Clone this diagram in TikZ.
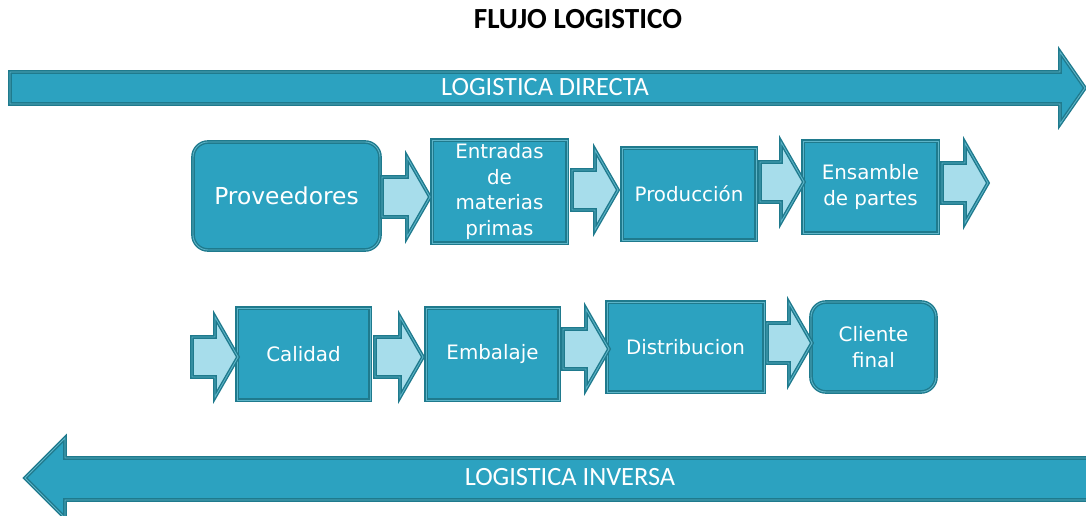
\documentclass[tikz,border=0pt]{standalone}
\usepackage{fontspec}
\setmainfont{DejaVu Sans}
\newfontfamily\carlito{Carlito}
\definecolor{caja}{HTML}{2CA2C0}
\definecolor{borde}{HTML}{1F7A8D}
\definecolor{medio}{HTML}{5DB4C8}
\definecolor{clara}{HTML}{A7DDEB}
\tikzset{
	caja/.style={draw=borde, double=medio, double distance=0.5pt, line width=0.8pt, fill=caja,
		text=white, align=center, inner sep=1pt, font=\fontsize{11.3}{14.6}\selectfont},
	redonda/.style={caja, rounded corners=0.3cm},
	flecha/.style={draw=borde, double=medio, double distance=0.5pt, line width=0.8pt, fill=clara},
	banda/.style={draw=borde, double=medio, double distance=0.5pt, line width=0.8pt, fill=caja},
	etiqueta/.style={text=white, font=\carlito\fontsize{15}{17}\selectfont},
}
% flecha de bloque: x inicio, x punta, y
\newcommand{\flecha}[3]{%
	\draw[flecha] (#1,#3-20) -- ({#2-23},#3-20) -- ({#2-23},#3-40) -- (#2,#3)
		-- ({#2-23},#3+40) -- ({#2-23},#3+20) -- (#1,#3+20) -- cycle;}
\begin{document}
\begin{tikzpicture}[x=0.02cm, y=-0.02cm]
		\useasboundingbox (0,0) rectangle (1086,516);

		\node[font=\carlito\bfseries\fontsize{16.6}{19}\selectfont] (titulo) at (578,19) {FLUJO LOGISTICO};

		\draw[banda] (10,72) -- (1060,72) -- (1060,52) -- (1085,88) -- (1060,124) -- (1060,104) -- (10,104) -- cycle;
		\node[etiqueta] (directa) at (545,87) {LOGISTICA DIRECTA};

		\draw[banda] (1088,458) -- (65,458) -- (65,438) -- (25,478) -- (65,518) -- (65,500) -- (1088,500) -- cycle;
		\node[etiqueta] (inversa) at (570,477) {LOGISTICA INVERSA};

		\node[redonda, minimum width=3.74cm, minimum height=2.16cm, font=\fontsize{13.3}{15}\selectfont] (prov) at (286.5,196) {Proveedores};
		\node[caja, minimum width=2.7cm, minimum height=2.06cm] (entradas) at (499.5,191.5) {Entradas\\de\\materias\\primas};
		\node[caja, minimum width=2.68cm, minimum height=1.84cm] (produccion) at (689,194) {Producción};
		\node[caja, minimum width=2.7cm, minimum height=1.84cm] (ensamble) at (870.5,187) {Ensamble\\de partes};

		\node[caja, minimum width=2.66cm, minimum height=1.84cm] (calidad) at (303.5,354) {Calidad};
		\node[caja, minimum width=2.66cm, minimum height=1.84cm] (embalaje) at (492.5,354) {Embalaje};
		\node[caja, minimum width=3.14cm, minimum height=1.8cm] (distrib) at (685.5,347) {Distribucion};
		\node[redonda, minimum width=2.5cm, minimum height=1.8cm] (cliente) at (873.5,347) {Cliente\\final};

		\flecha{382}{430}{197}
		\flecha{572}{618}{190}
		\flecha{760}{804}{182}
		\flecha{942}{988}{183}

		\flecha{192}{238}{357}
		\flecha{375}{423}{357}
		\flecha{563}{609}{349}
		\flecha{767}{812}{343}
	\end{tikzpicture}
\end{document}
